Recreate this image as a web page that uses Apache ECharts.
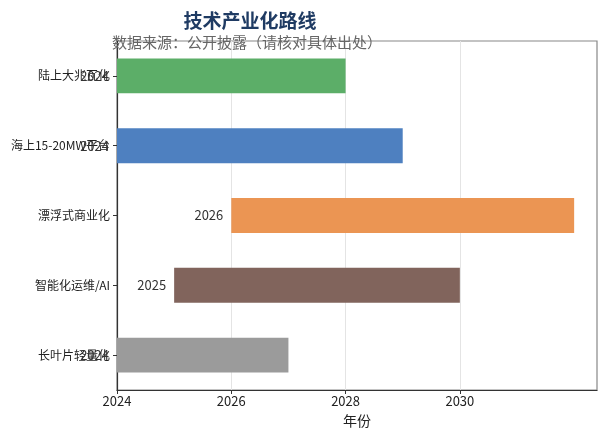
<!DOCTYPE html>
<html>
<head>
<meta charset="utf-8">
<script src="https://cdn.jsdelivr.net/npm/echarts@6/dist/echarts.min.js"></script>
<style>
    html, body { margin: 0; padding: 0; background: #fff; }
    #chart { width: 605px; height: 439px; }
</style>
</head>
<body>
<div id="chart"></div>
<script type="text/javascript">
    // route items, top to bottom
    var categories = ['陆上大兆瓦化', '海上15-20MW平台', '漂浮式商业化', '智能化运维/AI', '长叶片轻量化'];
    var startYears = [2024, 2024, 2026, 2025, 2024];
    var endYears = [2028, 2029, 2032, 2030, 2027];
    var yearTicks = [2024, 2026, 2028, 2030];
    var gridYears = [2026, 2028, 2030];

    var palette = ['#5cae68', '#4e80c0', '#eb9553', '#81645c', '#9b9b9b'];
    var font = '"Noto Sans CJK SC", "Noto Sans", sans-serif';

    var chart = echarts.init(document.getElementById('chart'));

    var spans = endYears.map(function (e, i) {
        return {
            value: e - startYears[i],
            itemStyle: { color: palette[i] }
        };
    });

    chart.setOption({
        animation: false,
        textStyle: { fontFamily: font },
        title: [{
            text: '技术产业化路线',
            left: 245,
            top: 6,
            textAlign: 'center',
            textStyle: { fontSize: 19, fontWeight: 'bold', color: '#1f3b63', fontFamily: font }
        }, {
            text: '数据来源：公开披露（请核对具体出处）',
            left: 242,
            top: 30,
            textAlign: 'center',
            textStyle: { fontSize: 15, fontWeight: 'normal', color: '#666', fontFamily: font }
        }],
        grid: {
            left: 117, right: 8, top: 41, bottom: 49,
            show: true, borderColor: '#888', borderWidth: 1.2
        },
        xAxis: {
            type: 'value',
            min: 2024,
            max: 2032.4,
            interval: 2,
            name: '年份',
            nameLocation: 'middle',
            nameGap: 24,
            nameTextStyle: { fontSize: 14, color: '#222', fontFamily: font },
            axisLine: { show: true, lineStyle: { color: '#333', width: 1.2 } },
            axisTick: { show: true, customValues: yearTicks, length: 4, lineStyle: { color: '#333' } },
            axisLabel: {
                customValues: yearTicks, fontSize: 13, color: '#222', margin: 5,
                formatter: function (v) { return String(v); }
            },
            splitLine: { show: false }
        },
        yAxis: {
            type: 'category',
            inverse: true,
            data: categories,
            axisLine: { show: true, lineStyle: { color: '#333', width: 1.2 } },
            axisTick: { show: true, alignWithLabel: true, length: 4, lineStyle: { color: '#333' } },
            axisLabel: { fontSize: 12, color: '#222', margin: 7 }
        },
        series: [{
            type: 'bar',
            stack: 'route',
            silent: true,
            z: 1,
            data: startYears,
            barWidth: '50%',
            itemStyle: { color: 'transparent' },
            markLine: {
                silent: true,
                symbol: 'none',
                label: { show: false },
                lineStyle: { color: '#e4e4e4', width: 1, type: 'solid' },
                data: gridYears.map(function (y) { return { xAxis: y }; })
            }
        }, {
            type: 'bar',
            stack: 'route',
            z: 10,
            data: spans,
            barWidth: '50%',
            label: {
                show: true,
                position: 'left',
                distance: 8,
                fontSize: 13,
                color: '#333',
                formatter: function (p) { return String(startYears[p.dataIndex]); }
            }
        }]
    });
</script>
</body>
</html>
